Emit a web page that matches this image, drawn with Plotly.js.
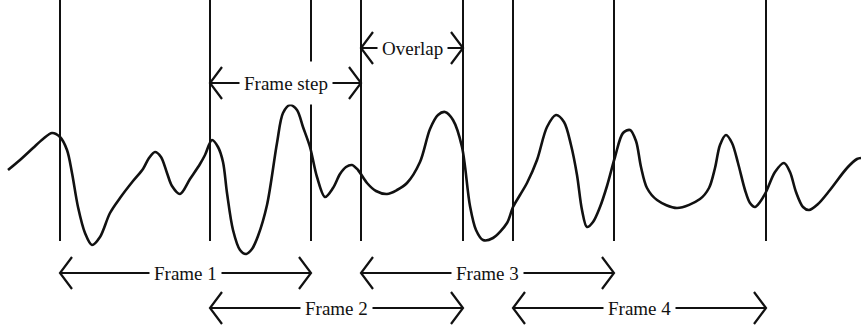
<!DOCTYPE html>
<html>
<head>
<meta charset="utf-8">
<script src="https://cdn.plot.ly/plotly-3.0.1.min.js"></script>
<style>
  html, body { margin: 0; padding: 0; background: #fff; }
  #plot { width: 861px; height: 332px; }
</style>
</head>
<body>
<div id="plot"></div>
<script>
// Speech signal samples (time position, amplitude)
const sampleTime = [
  8, 20, 33, 43, 52, 60, 67, 72, 78, 85, 92, 100, 110, 120, 133, 143, 149, 155, 161, 167,
  172, 180, 190, 200, 205, 212, 218, 223, 227, 233, 240, 246, 252, 258, 267, 277, 283, 290,
  297, 303, 310, 317, 325, 333, 340, 346, 352, 358, 367, 376, 387, 397, 407, 420, 430, 438,
  445, 453, 462, 470, 476, 483, 493, 507, 513, 520, 527, 537, 547, 556, 564, 571, 577, 582,
  587, 593, 600, 607, 615, 623, 630, 636, 641, 647, 657, 677, 700, 709, 715, 720, 726, 732,
  738, 745, 750, 755, 760, 766, 775, 784, 790, 796, 803, 809, 818, 830, 847, 857, 861
];
const sampleAmplitude = [
  30, 40, 52, 61, 67, 63, 50, 27, -7, -33, -45, -37, -13, 2, 19, 31, 42, 48, 43, 27,
  14, 6, 21, 36, 45, 60, 53, 38, 7, -30, -50, -54, -49, -36, -5, 57, 87, 95,
  90, 73, 53, 23, 3, 12, 26, 33, 35, 30, 17, 9, 6, 10, 17, 38, 71, 85,
  88, 80, 53, -6, -30, -40, -38, -23, -7, 5, 17, 40, 73, 85, 78, 55, 25, -10,
  -27, -22, -7, 14, 43, 67, 70, 59, 33, 12, 0, -8, 1, 12, 32, 55, 65, 57,
  37, 10, -3, -7, -2, 8, 28, 37, 28, 8, -7, -10, -4, 10, 32, 41, 42
];

// Analysis windows
const frameLabels = ['Frame 1', 'Frame 2', 'Frame 3', 'Frame 4'];
const frameStart = [60, 210, 361, 513];
const frameEnd = [311, 463, 614, 766];
const stepLabel = 'Frame step';
const overlapLabel = 'Overlap';

// Drawing geometry (axis units are one pixel each)
const MARK_TOP = 200, MARK_BOTTOM = -41;
const ROW_UPPER = -73, ROW_LOWER = -108;
const STEP_ROW = 117, OVERLAP_ROW = 152;
const HEAD_LEN = 12, HEAD_HALF = 16;
const INK = '#111';
const LABEL_FONT = { family: 'Liberation Serif, Times New Roman, serif', size: 19, color: INK };

const shapes = [];
const annotations = [];

// Window boundary markers
frameStart.concat(frameEnd).forEach(x => {
  shapes.push({ type: 'line', xref: 'x', yref: 'y', x0: x, x1: x, y0: MARK_BOTTOM, y1: MARK_TOP,
    line: { color: INK, width: 2 } });
});

// Double-headed dimension arrow with an open chevron at each end
function dimension(x0, x1, y, text, boxW, boxH) {
  shapes.push({ type: 'line', xref: 'x', yref: 'y', x0: x0, x1: x1, y0: y, y1: y,
    line: { color: INK, width: 2.2 } });
  shapes.push({ type: 'path', xref: 'x', yref: 'y',
    path: `M${x0 + HEAD_LEN},${y + HEAD_HALF} L${x0},${y} L${x0 + HEAD_LEN},${y - HEAD_HALF}`,
    line: { color: INK, width: 2.2 } });
  shapes.push({ type: 'path', xref: 'x', yref: 'y',
    path: `M${x1 - HEAD_LEN},${y + HEAD_HALF} L${x1},${y} L${x1 - HEAD_LEN},${y - HEAD_HALF}`,
    line: { color: INK, width: 2.2 } });
  const ann = { x: (x0 + x1) / 2, y: y, xref: 'x', yref: 'y', text: text, showarrow: false,
    font: LABEL_FONT, bgcolor: '#fff', borderpad: 4, xanchor: 'center', yanchor: 'middle' };
  if (boxW) { ann.width = boxW; }
  if (boxH) { ann.height = boxH; ann.borderpad = 0; }
  annotations.push(ann);
}

frameLabels.forEach((label, i) => {
  dimension(frameStart[i], frameEnd[i], i % 2 === 0 ? ROW_UPPER : ROW_LOWER, label);
});
dimension(frameStart[1], frameStart[2], STEP_ROW, stepLabel, 92, 42);
dimension(frameStart[2], frameEnd[1], OVERLAP_ROW, overlapLabel);

const trace = {
  x: sampleTime,
  y: sampleAmplitude,
  type: 'scatter',
  mode: 'lines',
  line: { color: INK, width: 2.6, shape: 'spline', smoothing: 0.9 },
  hoverinfo: 'skip'
};

const layout = {
  width: 861,
  height: 332,
  margin: { l: 0, r: 0, t: 0, b: 0, pad: 0 },
  paper_bgcolor: '#fff',
  plot_bgcolor: '#fff',
  showlegend: false,
  xaxis: { range: [0, 861], visible: false, fixedrange: true },
  yaxis: { range: [-132, 200], visible: false, fixedrange: true },
  shapes: shapes,
  annotations: annotations
};

Plotly.newPlot('plot', [trace], layout, { staticPlot: true, displayModeBar: false });
</script>
</body>
</html>
